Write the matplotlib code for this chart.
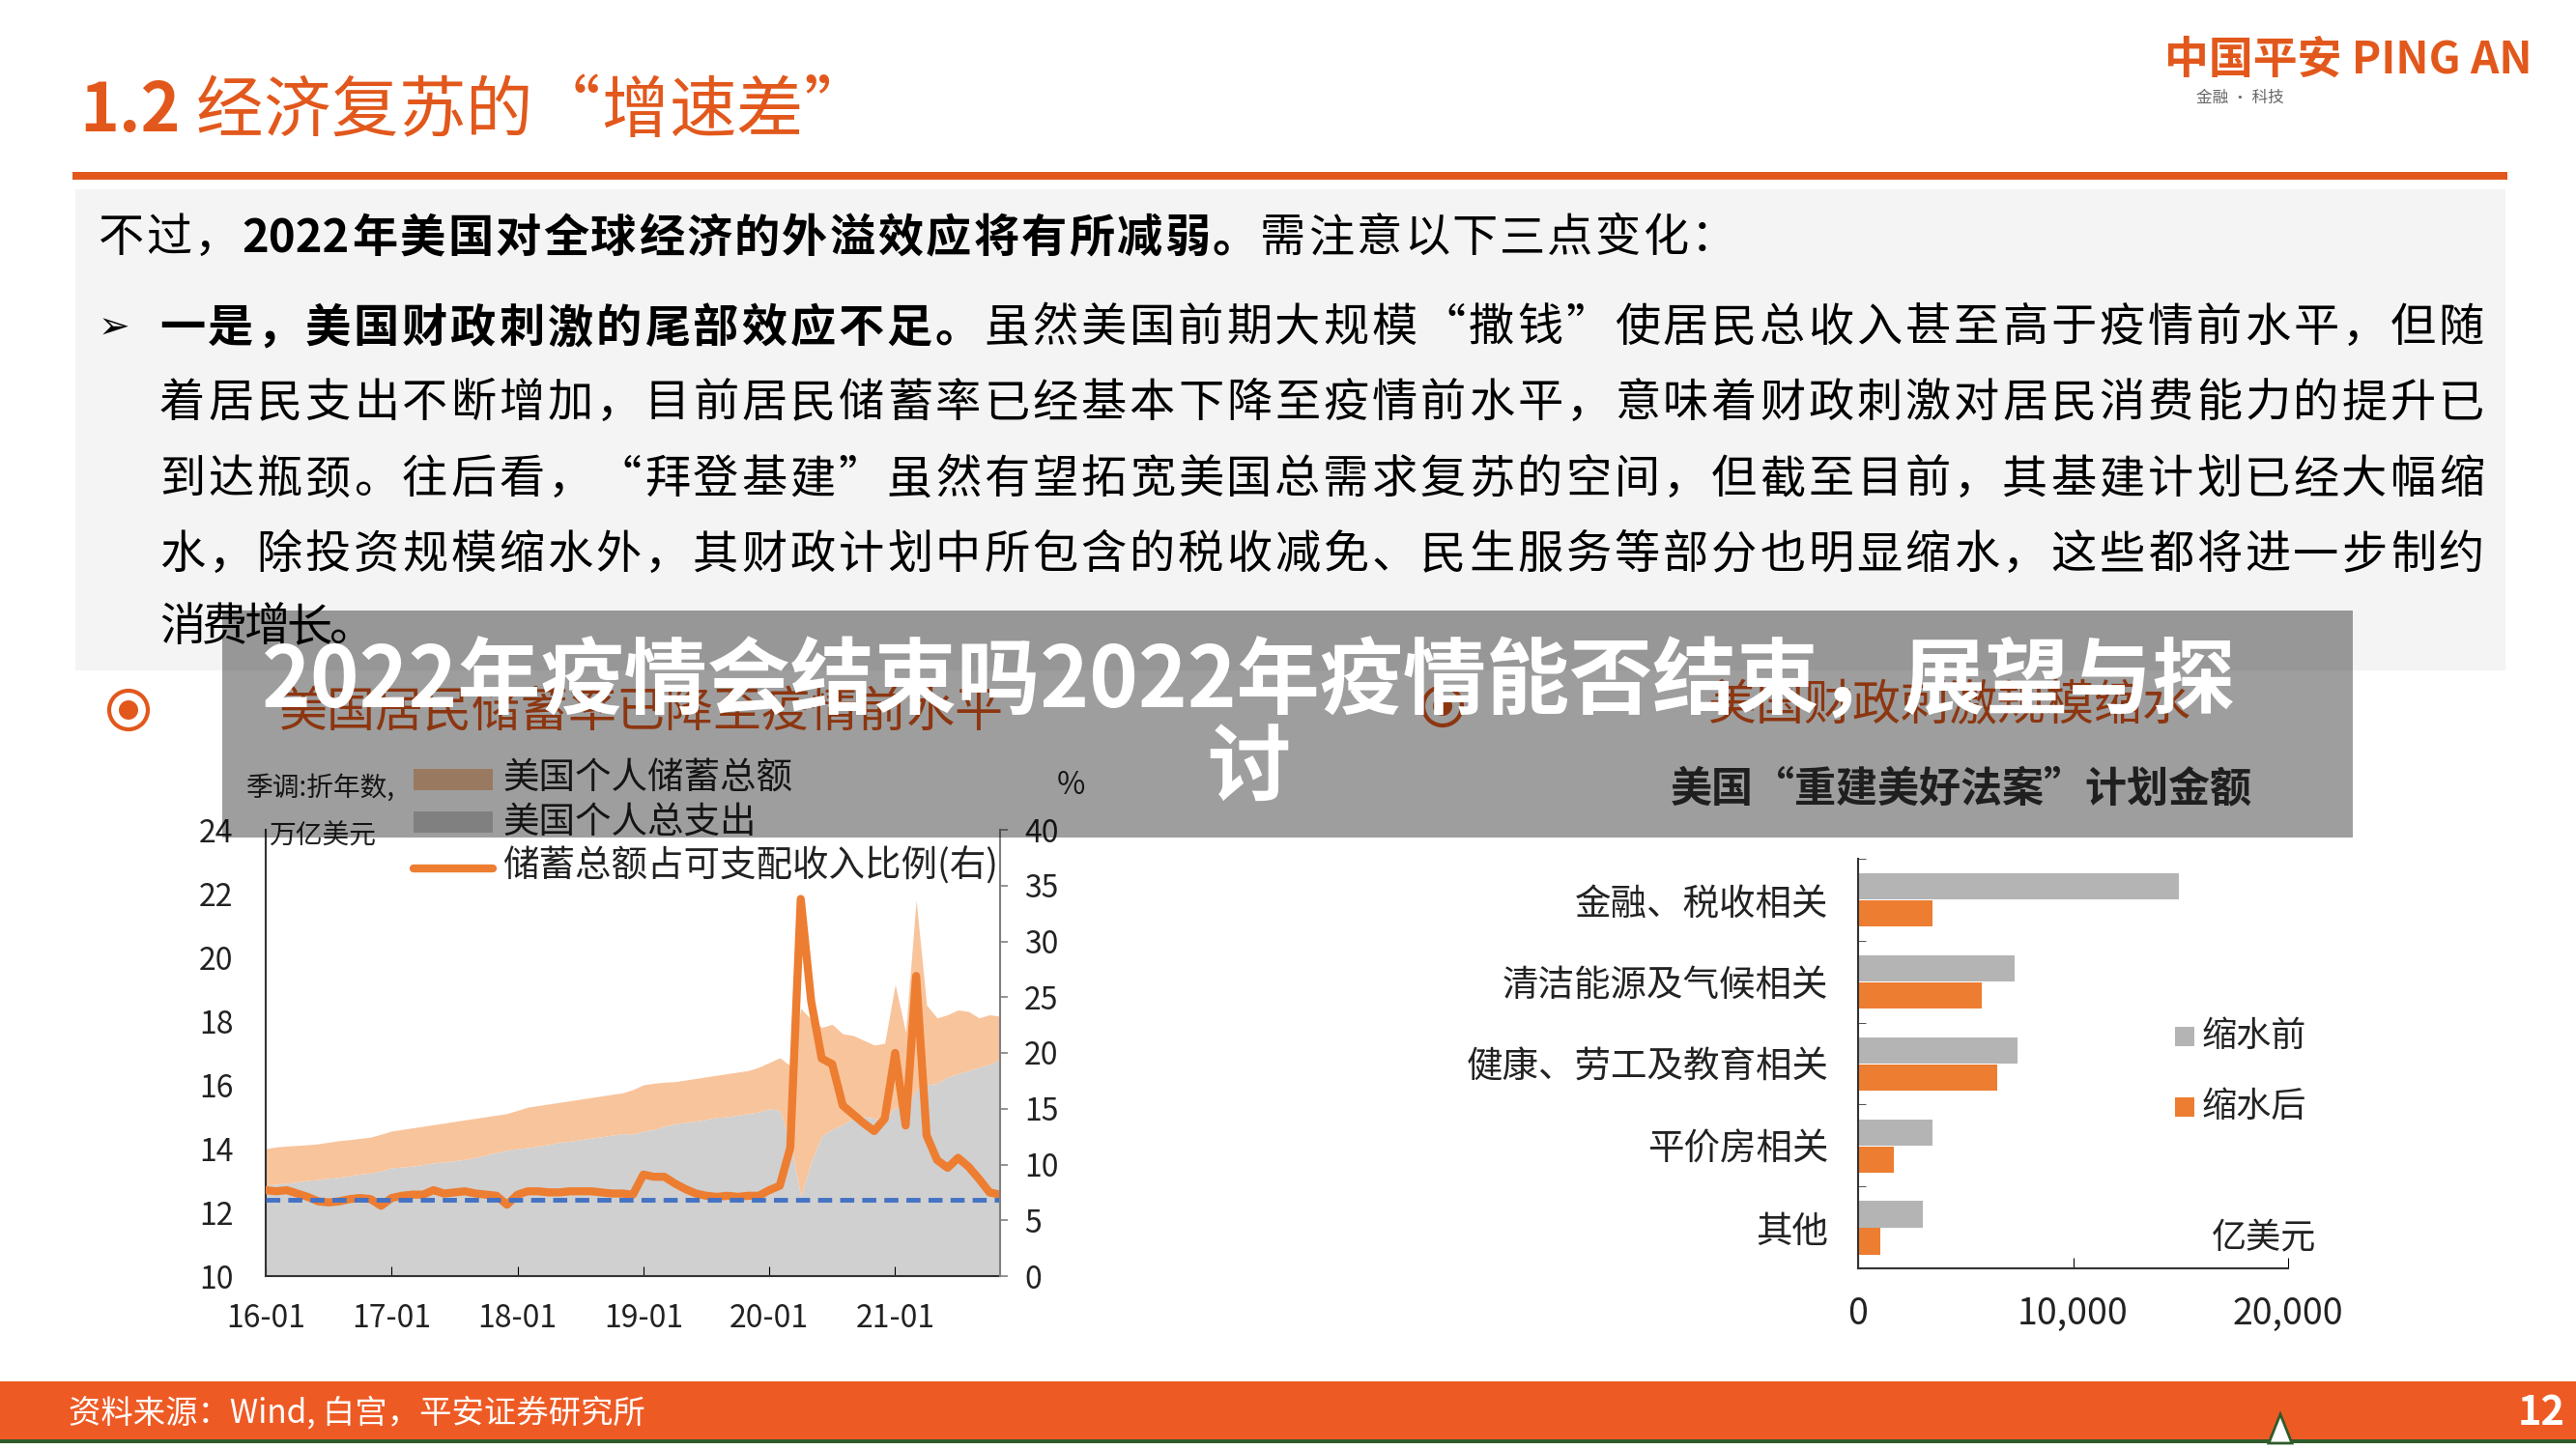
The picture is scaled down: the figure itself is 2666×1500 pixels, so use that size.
import numpy as np
import matplotlib
matplotlib.use("Agg")
import matplotlib.pyplot as plt
from matplotlib.patches import Rectangle, Circle, Polygon

plt.rcParams['font.family'] = ['Noto Sans CJK SC', 'DejaVu Sans']

# ---- data ----
months = np.arange(71)  # 2016-01 .. 2021-11
month_ticks = [0, 12, 24, 36, 48, 60]
month_labels = ['16-01', '17-01', '18-01', '19-01', '20-01', '21-01']

# personal outlays, trillion USD (saar)
spend = [12.85, 12.88, 12.92, 12.95, 13.00, 13.03, 13.07, 13.10, 13.15, 13.20, 13.23, 13.30,
         13.40, 13.42, 13.45, 13.50, 13.55, 13.58, 13.62, 13.66, 13.72, 13.80, 13.88, 13.95,
         14.00, 14.03, 14.08, 14.13, 14.20, 14.23, 14.28, 14.33, 14.37, 14.42, 14.47, 14.45,
         14.55, 14.60, 14.70, 14.78, 14.82, 14.86, 14.92, 14.98, 15.00, 15.05, 15.10, 15.15,
         15.25, 15.20, 14.20, 12.50, 13.60, 14.40, 14.60, 14.75, 14.95, 15.00, 14.95, 14.90,
         15.30, 15.20, 15.85, 16.00, 16.05, 16.25, 16.35, 16.45, 16.55, 16.65, 16.80]
# personal saving, trillion USD (saar)
save = [1.15, 1.17, 1.16, 1.15, 1.12, 1.12, 1.13, 1.15, 1.13, 1.12, 1.13, 1.15,
        1.15, 1.18, 1.20, 1.20, 1.20, 1.22, 1.23, 1.24, 1.23, 1.20, 1.17, 1.15,
        1.20, 1.27, 1.27, 1.27, 1.25, 1.27, 1.27, 1.27, 1.28, 1.28, 1.28, 1.40,
        1.45, 1.45, 1.38, 1.32, 1.33, 1.34, 1.33, 1.32, 1.35, 1.35, 1.35, 1.40,
        1.45, 1.65, 2.40, 5.90, 4.45, 3.40, 3.30, 2.85, 2.60, 2.40, 2.30, 2.40,
        3.85, 2.45, 5.95, 2.50, 2.05, 1.95, 2.00, 1.85, 1.55, 1.55, 1.35]
# saving rate, % of disposable income
rate = [7.7, 7.6, 7.7, 7.4, 7.1, 6.7, 6.6, 6.7, 6.9, 7.0, 6.9, 6.3,
        7.0, 7.2, 7.3, 7.3, 7.7, 7.4, 7.5, 7.6, 7.4, 7.3, 7.2, 6.4,
        7.3, 7.6, 7.6, 7.5, 7.5, 7.6, 7.6, 7.6, 7.5, 7.4, 7.4, 7.3,
        9.1, 8.9, 8.9, 8.3, 7.8, 7.4, 7.2, 7.1, 7.2, 7.1, 7.2, 7.2,
        7.7, 8.1, 11.5, 33.8, 24.6, 19.5, 19.0, 15.3, 14.5, 13.7, 13.0, 14.1,
        20.0, 13.5, 26.9, 12.6, 10.4, 9.7, 10.6, 9.8, 8.7, 7.5, 7.3]
pre_covid_rate = 6.8

cats = ['金融、税收相关', '清洁能源及气候相关', '健康、劳工及教育相关', '平价房相关', '其他']
before = [14900, 7300, 7400, 3450, 3000]
after = [3450, 5750, 6450, 1650, 1050]

ORANGE = '#E2581C'
LINE_OR = '#ED7D31'
SAVE_C = '#F8C49C'
SPEND_C = '#D0D0D0'
BAR_GRAY = '#B4B4B4'

W, H = 2666, 1500
fig = plt.figure(figsize=(W / 100, H / 100), dpi=100)
renderer = fig.canvas.get_renderer()


def pix_axes(zorder):
    a = fig.add_axes([0, 0, 1, 1], zorder=zorder)
    a.set_xlim(0, W)
    a.set_ylim(H, 0)
    a.axis('off')
    a.patch.set_visible(False)
    return a


def box(x0, y0, x1, y1):
    return [x0 / W, 1 - y1 / H, (x1 - x0) / W, (y1 - y0) / H]


def put_line(ax, pieces, x, y, size, width=None, color='#000000'):
    items = [ax.text(x, y, s, fontsize=size, fontweight='bold' if b else 'normal',
                     va='center', ha='left', color=color) for s, b in pieces]
    ws = [t.get_window_extent(renderer).width for t in items]
    gap = 0
    if width and len(items) > 1:
        gap = (width - sum(ws)) / (len(items) - 1)
    cx = x
    for t, w in zip(items, ws):
        t.set_x(cx)
        cx += w + gap


def chars(s, bold=False):
    return [(c, bold) for c in s]


bg = pix_axes(-5)

# ---- header ----
put_line(bg, [('1.2', True)] + chars(' 经济复苏的“增速差”'), 82, 116, 50, width=819, color=ORANGE)
bg.text(2430, 63, '中国平安 PING AN', fontsize=33, fontweight='bold', color=ORANGE, ha='center', va='center')
bg.text(2318, 101, '金融 · 科技', fontsize=12, color='#666666', ha='center', va='center')
bg.add_patch(Rectangle((75, 178), 2520, 8, color=ORANGE, lw=0))

# ---- text box ----
bg.add_patch(Rectangle((78, 196), 2515, 498, color='#F4F4F4', lw=0))
FS = 34
put_line(bg, chars('不过，') + [('2022', True)] + chars('年美国对全球经济的外溢效应将有所减弱。', True) +
         chars('需注意以下三点变化：'), 102, 247, FS, width=1695)
bg.text(102, 340, '➢', fontsize=28, va='center', ha='left', color='#000000', family='DejaVu Sans')
body = [
    (chars('一是，美国财政刺激的尾部效应不足。', True) +
     chars('虽然美国前期大规模“撒钱”使居民总收入甚至高于疫情前水平，但随'), 340),
    (chars('着居民支出不断增加，目前居民储蓄率已经基本下降至疫情前水平，意味着财政刺激对居民消费能力的提升已'), 418),
    (chars('到达瓶颈。往后看，“拜登基建”虽然有望拓宽美国总需求复苏的空间，但截至目前，其基建计划已经大幅缩'), 497),
    (chars('水，除投资规模缩水外，其财政计划中所包含的税收减免、民生服务等部分也明显缩水，这些都将进一步制约'), 575),
]
for pieces, yy in body:
    put_line(bg, pieces, 165, yy, FS, width=2406)
put_line(bg, chars('消费增长。'), 165, 650, FS, width=222)

# ---- section subtitles ----
for cx, cy in [(133, 735), (1493, 731)]:
    bg.add_patch(Circle((cx, cy), 20, fill=False, ec=ORANGE, lw=3))
    bg.add_patch(Circle((cx, cy), 10, color=ORANGE, lw=0))
bg.text(289, 738, '美国居民储蓄率已降至疫情前水平', fontsize=36, color=ORANGE, va='center')
bg.text(1768, 731, '美国财政刺激规模缩水', fontsize=36, color=ORANGE, va='center')

# ---- left chart legend ----
bg.text(255, 816, '季调:折年数,', fontsize=20, va='center', color='#222222')
bg.text(278, 866, '万亿美元', fontsize=20, va='center', color='#222222')
bg.add_patch(Rectangle((428, 796), 82, 22, color=SAVE_C, lw=0))
bg.add_patch(Rectangle((428, 840), 82, 22, color=SPEND_C, lw=0))
bg.plot([428, 510], [899, 899], color=LINE_OR, lw=6, solid_capstyle='round')
bg.text(520, 806, '美国个人储蓄总额', fontsize=27, va='center', color='#222222')
bg.text(520, 851, '美国个人总支出', fontsize=27, va='center', color='#222222')
bg.text(520, 897, '储蓄总额占可支配收入比例(右)', fontsize=27, va='center', color='#222222')
bg.text(1108, 813, '%', fontsize=23, va='center', ha='center', color='#222222')

# ---- left chart ----
ax1 = fig.add_axes(box(275, 859, 1035, 1321), zorder=0)
ax1.patch.set_visible(False)
top = np.array(spend) + np.array(save)
ax1.fill_between(months, 10, spend, color=SPEND_C, lw=0)
ax1.fill_between(months, spend, top, color=SAVE_C, lw=0)
ax1.set_xlim(0, 70)
ax1.set_ylim(10, 24)
ax1.set_yticks(np.arange(10, 25, 2))
ax1.set_xticks(month_ticks)
ax1.set_xticklabels(month_labels)
ax1.tick_params(axis='y', length=0, pad=24, labelsize=23, labelcolor='#222222')
ax1.tick_params(axis='x', direction='in', length=7, pad=20, labelsize=23, labelcolor='#222222')
for s in ['top', 'right']:
    ax1.spines[s].set_visible(False)
for s in ['left', 'bottom']:
    ax1.spines[s].set_linewidth(1.5)
    ax1.spines[s].set_color('#333333')

ax2 = ax1.twinx()
ax2.plot(months, rate, color=LINE_OR, lw=6, solid_joinstyle='round')
ax2.plot([0, 70], [pre_covid_rate, pre_covid_rate], color='#4472C4', lw=3.5, ls=(0, (3, 1.7)))
ax2.set_ylim(0, 40)
ax2.set_yticks(np.arange(0, 41, 5))
ax2.tick_params(axis='y', direction='out', length=6, width=1.2, color='#808080', pad=12,
                labelsize=23, labelcolor='#222222')
for s in ['top', 'left', 'bottom']:
    ax2.spines[s].set_visible(False)
ax2.spines['right'].set_color('#808080')
ax2.spines['right'].set_linewidth(1.5)

# ---- right chart ----
bg.text(2030, 816, '美国“重建美好法案”计划金额', fontsize=31, fontweight='bold', ha='center', va='center',
        color='#333333')
ax3 = fig.add_axes(box(1923, 889, 2368, 1313), zorder=0)
ax3.patch.set_visible(False)
yy = np.arange(len(cats))
ax3.barh(yy - 0.16, before, height=0.32, color=BAR_GRAY, label='缩水前')
ax3.barh(yy + 0.17, after, height=0.32, color=LINE_OR, label='缩水后')
ax3.set_ylim(4.5, -0.5)
ax3.set_xlim(0, 20000)
ax3.set_yticks(yy)
ax3.set_yticklabels(cats)
ax3.set_yticks(np.arange(-0.5, 4.6, 1), minor=True)
ax3.tick_params(axis='y', which='major', length=0, pad=22, labelsize=27, labelcolor='#222222')
ax3.tick_params(axis='y', which='minor', direction='in', length=6, color='#333333')
ax3.set_xticks([0, 10000, 20000])
ax3.set_xticklabels(['0', '10,000', '20,000'])
ax3.tick_params(axis='x', direction='in', length=8, pad=20, labelsize=27, labelcolor='#222222')
for s in ['top', 'right']:
    ax3.spines[s].set_visible(False)
for s in ['left', 'bottom']:
    ax3.spines[s].set_linewidth(1.5)
    ax3.spines[s].set_color('#333333')
bg.add_patch(Rectangle((2251, 1063), 20, 20, color=BAR_GRAY, lw=0))
bg.add_patch(Rectangle((2251, 1136), 20, 20, color=LINE_OR, lw=0))
bg.text(2279, 1073, '缩水前', fontsize=26, va='center', color='#222222')
bg.text(2279, 1146, '缩水后', fontsize=26, va='center', color='#222222')
bg.text(2343, 1282, '亿美元', fontsize=26, va='center', ha='center', color='#222222')

# ---- footer ----
bg.add_patch(Rectangle((0, 1430), W, 60, color='#EE5A24', lw=0))
bg.add_patch(Rectangle((0, 1490), W, 4, color='#2F5B2A', lw=0))
bg.text(71, 1463, '资料来源：Wind, 白宫，平安证券研究所', fontsize=24, color='white', va='center')
bg.text(2655, 1463, '12', fontsize=30, fontweight='bold', color='white', va='center', ha='right')
bg.add_patch(Polygon([[2348, 1494], [2360, 1464], [2372, 1494]], closed=True, fc='white', ec='#2F5B2A', lw=2))

# ---- overlay banner ----
top_ax = pix_axes(10)
top_ax.add_patch(Rectangle((230, 632), 2205, 235, color='black', alpha=0.38, lw=0))
top_ax.text(1292, 707, '2022年疫情会结束吗2022年疫情能否结束，展望与探', fontsize=62, fontweight='bold',
            color='white', ha='center', va='center')
top_ax.text(1292, 797, '讨', fontsize=62, fontweight='bold', color='white', ha='center', va='center')

fig.savefig('out.png', dpi=100)
